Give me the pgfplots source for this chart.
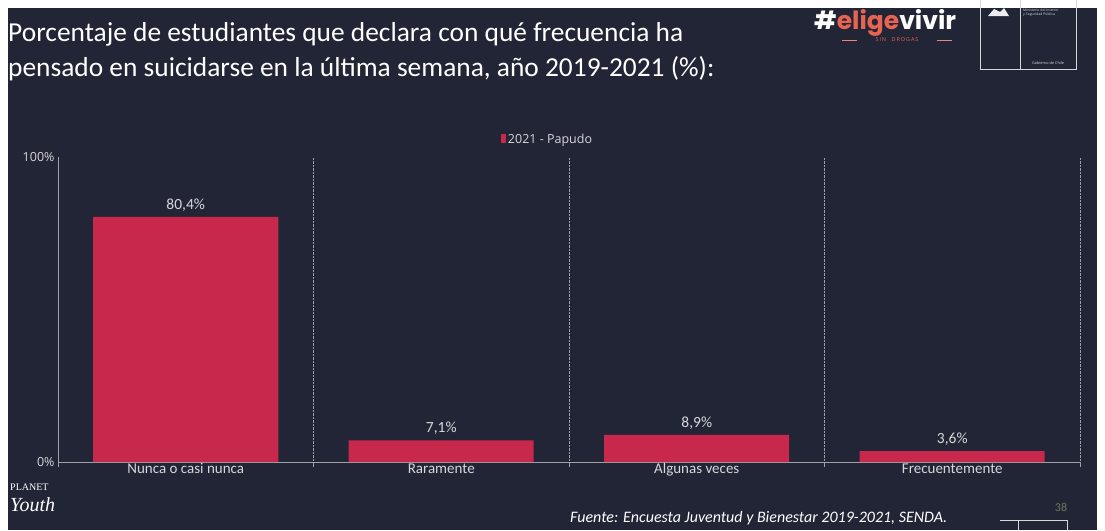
\documentclass[border=0pt]{standalone}
\usepackage{pgfplots}
\pgfplotsset{compat=1.18}
\usepackage{fontspec}
\setmainfont{Carlito}
\newfontfamily\opensans{Open Sans}
\newfontfamily\poppins{Poppins}
\newfontfamily\serifb{Liberation Serif}
\definecolor{bg}{RGB}{34,37,54}
\definecolor{barred}{RGB}{200,40,75}
\definecolor{lbl}{RGB}{215,215,218}
\definecolor{axgray}{RGB}{160,160,168}
\definecolor{salmon}{RGB}{232,100,82}
\definecolor{pagenum}{RGB}{115,120,95}
\begin{document}
\begin{tikzpicture}
\path[use as bounding box] (0pt,0pt) rectangle (1105pt,-530pt);
\clip (0pt,0pt) rectangle (1105pt,-530pt);
\fill[white] (0pt,0pt) rectangle (1105pt,-530pt);
\fill[bg] (8pt,-8pt) rectangle (1097pt,-530pt);
% title
\node[anchor=base west, text=white, inner sep=0pt, font=\fontsize{27.4}{31}\selectfont] at (8pt,-41pt) {Porcentaje de estudiantes que declara con qué frecuencia ha};
\node[anchor=base west, text=white, inner sep=0pt, font=\fontsize{27.4}{31}\selectfont] at (8pt,-76pt) {pensado en suicidarse en la última semana, año 2019-2021 (\%):};
\begin{axis}[
  at={(58pt,-462pt)}, anchor=south west,
  scale only axis, width=1022pt, height=305pt,
  xmin=-0.5, xmax=3.5, ymin=0, ymax=100,
  clip=false,
  axis x line*=bottom, axis y line*=left,
  x axis line style={axgray, line width=1pt, -},
  y axis line style={axgray, line width=0.8pt, -},
  tick align=outside,
  xtick={0,1,2,3},
  xticklabels={Nunca o casi nunca, Raramente, Algunas veces, Frecuentemente},
  major tick length=0pt,
  minor tick length=5pt,
  minor xtick={-0.5,0.5,1.5,2.5,3.5},
  minor x tick style={axgray, line width=0.8pt},
  xminorgrids,
  minor x grid style={densely dotted, axgray, line width=0.9pt},
  ytick={0,100}, yticklabels={0\%,100\%},
  y tick style={draw=none},
  xticklabel style={text=lbl, font=\fontsize{15}{17}\selectfont, yshift=2pt},
  yticklabel style={text=lbl, font=\opensans\fontsize{12.5}{14}\selectfont},
  ybar, bar width=185pt,
  nodes near coords={\pgfmathprintnumber[fixed,zerofill,precision=1,use comma]{\pgfplotspointmeta}\%},
  nodes near coords style={text=lbl, font=\fontsize{15.5}{17}\selectfont, yshift=2pt},
  /pgf/number format/assume math mode=true,
  legend style={at={(0.479,1)}, anchor=south, yshift=8pt, draw=none, fill=none,
    text=lbl, font=\opensans\fontsize{12.5}{14}\selectfont},
  legend image code/.code={\fill[barred] (0pt,-4pt) rectangle (5pt,5pt);},
]
\addplot[fill=barred, draw=none] coordinates {(0,80.4) (1,7.1) (2,8.9) (3,3.6)};
\addlegendentry{2021 - Papudo}
\end{axis}
% logo elige vivir
\node[anchor=base west, inner sep=0pt, font=\poppins\bfseries\fontsize{25}{27}\selectfont] at (814pt,-29pt) {\textcolor{white}{\#}\textcolor{salmon}{elige}\textcolor{white}{vivir}};
\draw[salmon!80, line width=0.8pt] (842pt,-40pt) -- (857pt,-40pt);
\draw[salmon!80, line width=0.8pt] (937pt,-40pt) -- (952pt,-40pt);
\node[inner sep=0pt, font=\opensans\fontsize{5.5}{6}\selectfont, text=salmon] at (897pt,-40pt) {S\,I\,N\quad D\,R\,O\,G\,A\,S};
% government box
\draw[lbl, line width=0.7pt] (980pt,0pt) -- (980pt,-69pt) -- (1076pt,-69pt) -- (1076pt,0pt);
\draw[lbl, line width=0.7pt] (1020pt,0pt) -- (1020pt,-69pt);
\fill[white!85!gray] (988pt,-16pt) -- (994pt,-9pt) -- (1000pt,-12pt) -- (1004pt,-8pt) -- (1009pt,-16pt) -- cycle;
\node[anchor=north west, inner sep=0pt, text=lbl, font=\opensans\fontsize{3.5}{4}\selectfont, align=left] at (1023pt,-9pt) {Ministerio del Interior\\y Seguridad Pública};
\node[inner sep=0pt, text=lbl, font=\opensans\fontsize{3.8}{4}\selectfont] at (1048pt,-63pt) {Gobierno de Chile};
% planet youth
\node[anchor=base west, inner sep=0pt, text=white, font=\serifb\fontsize{10}{12}\selectfont] at (10pt,-490pt) {PLANET};
\node[anchor=base west, inner sep=0pt, text=white, font=\serifb\itshape\fontsize{20}{22}\selectfont] at (10pt,-511pt) {Youth};
% source
\node[anchor=base west, inner sep=0pt, text=white, font=\itshape\fontsize{16}{18}\selectfont] at (570pt,-522pt) {Fuente: Encuesta Juventud y Bienestar 2019-2021, SENDA.};
\node[anchor=base, inner sep=0pt, text=pagenum, font=\fontsize{12}{14}\selectfont] at (1061pt,-511pt) {38};
\draw[lbl, line width=0.6pt] (1000pt,-520pt) -- (1067pt,-520pt);
\draw[lbl, line width=0.6pt] (1018pt,-520pt) -- (1018pt,-530pt);
\draw[lbl, line width=0.6pt] (1067pt,-520pt) -- (1067pt,-530pt);
\end{tikzpicture}
\end{document}
